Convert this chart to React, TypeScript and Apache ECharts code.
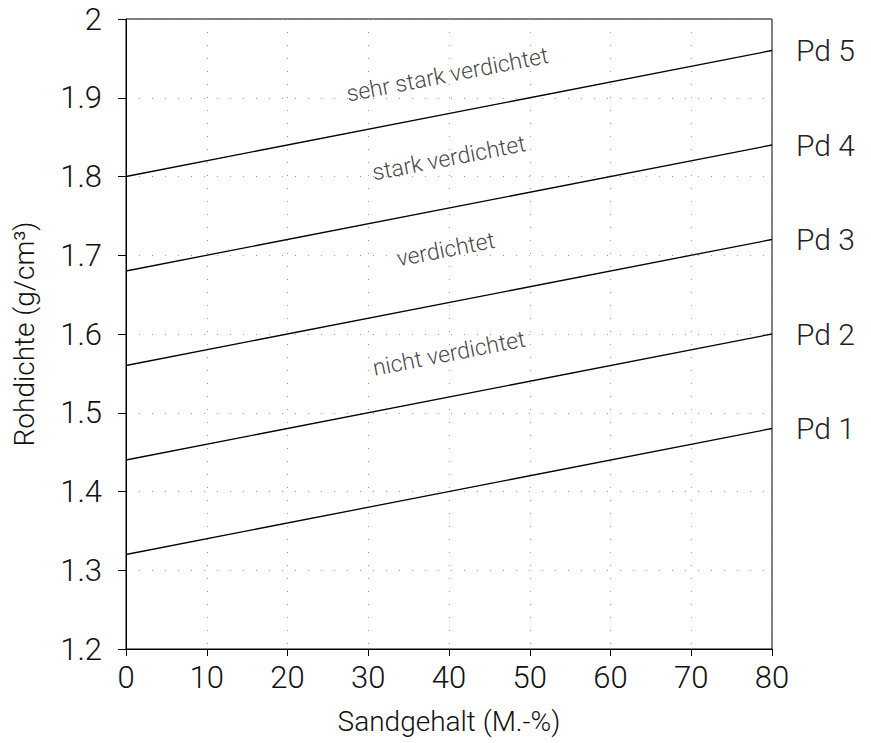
import React, { useEffect, useRef } from "react";
import * as echarts from "echarts";

const sandgehalt = [0, 80];
const classNames = ["Pd 1", "Pd 2", "Pd 3", "Pd 4", "Pd 5"];
const pd1 = [1.32, 1.48];
const pd2 = [1.44, 1.6];
const pd3 = [1.56, 1.72];
const pd4 = [1.68, 1.84];
const pd5 = [1.8, 1.96];
const zoneLabels = ["nicht verdichtet", "verdichtet", "stark verdichtet", "sehr stark verdichtet"];
const zoneLabelX = [40, 39.6, 40, 39.8];
const zoneLabelY = [1.575, 1.707, 1.823, 1.929];
const xTicks = [0, 10, 20, 30, 40, 50, 60, 70, 80];
const yTicks = [1.2, 1.3, 1.4, 1.5, 1.6, 1.7, 1.8, 1.9, 2];

const FONT = "Roboto";

export default function App() {
  const ref = useRef<HTMLDivElement>(null);
  useEffect(() => {
    if (!ref.current) return;
    const chart = echarts.init(ref.current, undefined, { renderer: "svg" });
    const lines = [pd1, pd2, pd3, pd4, pd5];
    const lineSeries = lines.map((vals, i) => ({
      type: "line",
      name: classNames[i],
      data: sandgehalt.map((x, j) => [x, vals[j]]),
      symbol: "none",
      lineStyle: { color: "#000", width: 1.3 },
      endLabel: {
        show: true,
        formatter: classNames[i],
        distance: 24,
        color: "#222",
        fontFamily: FONT,
        fontWeight: 300,
        fontSize: 30,
      },
      z: 3,
    }));
    chart.setOption({
      animation: false,
      backgroundColor: "#fff",
      grid: {
        left: 126,
        top: 19,
        width: 646,
        height: 630,
        show: true,
        borderColor: "#000",
        borderWidth: 1,
        containLabel: false,
      },
      xAxis: {
        type: "value",
        min: 0,
        max: 80,
        interval: 10,
        name: "Sandgehalt (M.-%)",
        nameLocation: "middle",
        nameGap: 58,
        nameTextStyle: { fontFamily: FONT, fontWeight: 300, fontSize: 28, color: "#111" },
        axisLine: { show: true, lineStyle: { color: "#000", width: 1 } },
        axisTick: { show: true, length: 7, lineStyle: { color: "#000" } },
        axisLabel: {
          margin: 13,
          fontFamily: FONT,
          fontWeight: 300,
          fontSize: 31,
          color: "#111",
          formatter: (v: number) => (xTicks.includes(v) ? String(v) : ""),
        },
        splitLine: { show: true, lineStyle: { color: "#999", type: [1, 12], width: 1 } },
      },
      yAxis: {
        type: "value",
        min: 1.2,
        max: 2,
        interval: 0.1,
        name: "Rohdichte (g/cm³)",
        nameLocation: "middle",
        nameGap: 88,
        nameTextStyle: { fontFamily: FONT, fontWeight: 300, fontSize: 28, color: "#111" },
        axisLine: { show: true, lineStyle: { color: "#000", width: 1 } },
        axisTick: { show: true, length: 8, lineStyle: { color: "#000" } },
        axisLabel: {
          margin: 24,
          fontFamily: FONT,
          fontWeight: 300,
          fontSize: 31,
          color: "#111",
          formatter: (v: number) => {
            const r = Math.round(v * 10) / 10;
            return yTicks.includes(r) ? String(r) : "";
          },
        },
        splitLine: { show: true, lineStyle: { color: "#999", type: [1, 12], width: 1 } },
      },
      series: [
        ...lineSeries,
        {
          type: "scatter",
          symbolSize: 0,
          data: zoneLabels.map((t, i) => ({ value: [zoneLabelX[i], zoneLabelY[i]], name: t })),
          label: {
            show: true,
            position: "inside",
            rotate: 11,
            formatter: (p: any) => p.name,
            fontFamily: FONT,
            fontWeight: 300,
            fontSize: 23,
            color: "#111",
          },
          z: 4,
        },
      ],
    });
    return () => chart.dispose();
  }, []);
  return (
    <div
      ref={ref}
      style={{ position: "fixed", left: 0, top: 0, width: 871, height: 743, background: "#fff" }}
    />
  );
}
